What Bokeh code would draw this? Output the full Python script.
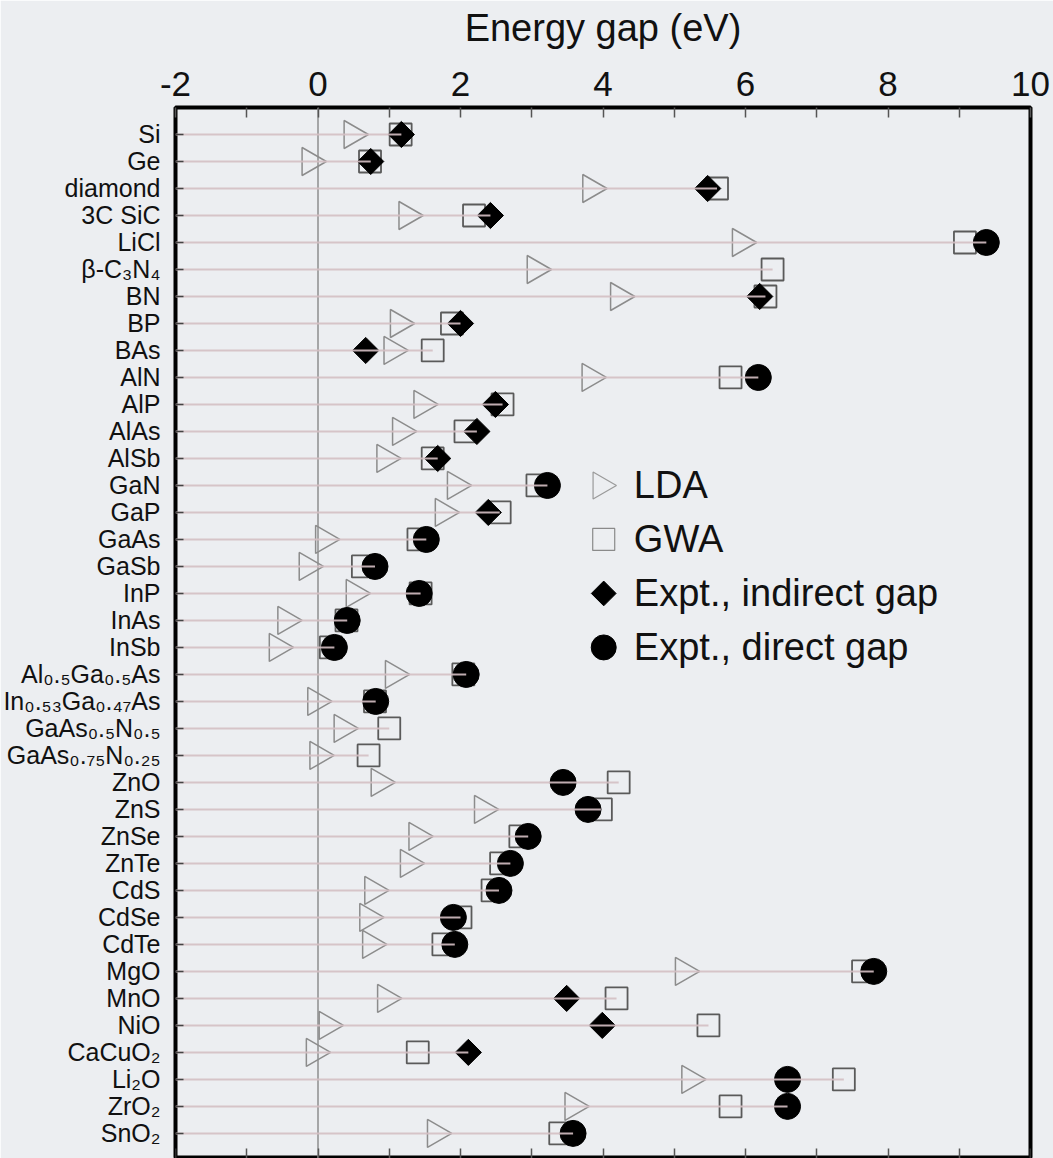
import numpy as np
from bokeh.plotting import figure
from bokeh.models import Range1d, FixedTicker, LinearAxis, Span, ColumnDataSource
from bokeh.core.properties import value
from bokeh.embed import file_html
from bokeh.resources import INLINE

nan = float("nan")

materials = ["Si", "Ge", "diamond", "3C SiC", "LiCl", "β-C₃N₄", "BN", "BP", "BAs",
             "AlN", "AlP", "AlAs", "AlSb", "GaN", "GaP", "GaAs", "GaSb", "InP",
             "InAs", "InSb", "Al₀.₅Ga₀.₅As", "In₀.₅₃Ga₀.₄₇As", "GaAs₀.₅N₀.₅",
             "GaAs₀.₇₅N₀.₂₅", "ZnO", "ZnS", "ZnSe", "ZnTe", "CdS", "CdSe", "CdTe",
             "MgO", "MnO", "NiO", "CaCuO₂", "Li₂O", "ZrO₂", "SnO₂"]

lda = [0.48, -0.11, 3.83, 1.25, 5.93, 3.05, 4.22, 1.13, 1.04, 3.82, 1.46, 1.16,
       0.94, 1.93, 1.76, 0.08, -0.15, 0.51, -0.45, -0.57, 1.06, -0.03, 0.34,
       0.00, 0.86, 2.31, 1.39, 1.27, 0.77, 0.70, 0.74, 5.13, 0.95, 0.13, -0.05,
       5.22, 3.58, 1.65]

gwa = [1.16, 0.73, 5.60, 2.19, 9.08, 6.38, 6.28, 1.88, 1.61, 5.79, 2.59, 2.07,
       1.61, 3.08, 2.55, 1.41, 0.63, 1.44, 0.40, 0.18, 2.04, 0.80, 1.00, 0.71,
       4.22, 3.97, 2.84, 2.57, 2.45, 2.00, 1.76, 7.65, 4.19, 5.48, 1.40, 7.38,
       5.79, 3.40]

expt_indirect = [1.17, 0.74, 5.47, 2.42, nan, nan, 6.20, 2.00, 0.67, nan, 2.49,
                 2.23, 1.68, nan, 2.39, nan, nan, nan, nan, nan, nan, nan, nan,
                 nan, nan, nan, nan, nan, nan, nan, nan, nan, 3.49, 3.99, 2.11,
                 nan, nan, nan]

expt_direct = [nan, nan, nan, nan, 9.38, nan, nan, nan, nan, 6.18, nan, nan, nan,
               3.22, nan, 1.52, 0.80, 1.42, 0.41, 0.23, 2.08, 0.81, nan, nan,
               3.44, 3.79, 2.95, 2.70, 2.54, 1.90, 1.92, 7.80, nan, nan, nan,
               6.59, 6.59, 3.58]

x_ticks = [-2, 0, 2, 4, 6, 8, 10]
x_minor_ticks = [-1, 1, 3, 5, 7, 9]
legend_labels = ["LDA", "GWA", "Expt., indirect gap", "Expt., direct gap"]

BG = "#eceef1"
FONT = "Liberation Sans"

rows = list(range(len(materials)))
row_end = [float(np.nanmax([a, b, c, d])) for a, b, c, d in
           zip(lda, gwa, expt_indirect, expt_direct)]

y_bottom = len(materials) - 0.07

src = ColumnDataSource(dict(
    row=rows, lda=lda, gwa=gwa, ind=expt_indirect, dir=expt_direct,
    x0=[-2.0] * len(rows), x1=row_end))

p = figure(width=1053, height=1158,
           x_range=Range1d(-2, 10), y_range=Range1d(y_bottom, -1),
           x_axis_location="above", output_backend="svg", toolbar_location=None,
           min_border_left=172, min_border_right=23, min_border_top=107,
           min_border_bottom=0)

p.background_fill_color = BG
p.border_fill_color = BG
p.outline_line_color = "black"
p.outline_line_width = 4
p.xgrid.visible = False
p.ygrid.visible = False

# top axis
xa = p.xaxis[0]
xa.ticker = FixedTicker(ticks=x_ticks, minor_ticks=x_minor_ticks)
xa.axis_label = "Energy gap (eV)"
xa.axis_label_text_font = FONT
xa.axis_label_text_font_size = "38px"
xa.axis_label_text_font_style = "normal"
xa.axis_label_text_color = "#111111"
xa.axis_label_standoff = 20
xa.major_label_text_font = FONT
xa.major_label_text_font_size = "35px"
xa.major_label_text_color = "#111111"
xa.major_label_standoff = 12
xa.major_label_overrides = {t: str(t) for t in x_ticks}
xa.axis_line_color = None
xa.major_tick_in = 10
xa.major_tick_out = 0
xa.minor_tick_in = 10
xa.minor_tick_out = 0
xa.major_tick_line_color = "#555555"
xa.minor_tick_line_color = "#555555"
xa.major_tick_line_width = 1.5
xa.minor_tick_line_width = 1.5

# bottom ticks, pinned to the bottom edge of the frame
xb = LinearAxis(ticker=FixedTicker(ticks=x_ticks, minor_ticks=x_minor_ticks),
                fixed_location=y_bottom)
xb.major_label_text_color = None
xb.axis_line_color = None
xb.major_tick_in = 10
xb.major_tick_out = 0
xb.minor_tick_in = 10
xb.minor_tick_out = 0
xb.major_tick_line_color = "#555555"
xb.minor_tick_line_color = "#555555"
xb.major_tick_line_width = 1.5
xb.minor_tick_line_width = 1.5
p.add_layout(xb, "below")

# left axis with material names
ya = p.yaxis[0]
ya.ticker = FixedTicker(ticks=rows)
ya.major_label_overrides = {i: m for i, m in enumerate(materials)}
ya.major_label_text_font = FONT
ya.major_label_text_font_size = "25px"
ya.major_label_text_color = "#111111"
ya.major_label_standoff = 15
ya.axis_line_color = None
ya.major_tick_in = 8
ya.major_tick_out = 0
ya.major_tick_line_color = "#444444"
ya.major_tick_line_width = 1.5
ya.minor_tick_line_color = None

p.add_layout(Span(location=0, dimension="height", line_color="#8e8e8e",
                  line_width=1.5, level="underlay"))

# data markers
p.scatter(x="gwa", y="row", source=src, marker="square", size=22,
          fill_color=None, line_color="#5a5a5a", line_width=1.8)
p.scatter(x="lda", y="row", source=src, marker="triangle", angle=-np.pi / 2,
          size=28, fill_color=None, line_color="#8c8c8c", line_width=1.5)
p.scatter(x="ind", y="row", source=src, marker="square", angle=np.pi / 4,
          size=18.5, fill_color="black", line_color="black")
p.scatter(x="dir", y="row", source=src, marker="circle", size=26,
          fill_color="black", line_color="black")

# row guide lines
p.segment(x0="x0", y0="row", x1="x1", y1="row", source=src,
          line_color="#d4bfc3", line_width=2, line_alpha=0.9)

# legend (drawn in the plot area)
leg_x = 3.97
leg_rows = [13, 15, 17, 19]
p.scatter(x=[leg_x], y=[leg_rows[0]], marker="triangle", angle=-np.pi / 2,
          size=27, fill_color=None, line_color="#9a9a9a", line_width=1.2)
p.scatter(x=[leg_x + 0.04], y=[leg_rows[1]], marker="square", size=22,
          fill_color=None, line_color="#8a8a8a", line_width=1.2)
p.scatter(x=[leg_x + 0.04], y=[leg_rows[2]], marker="square", angle=np.pi / 4,
          size=17.5, fill_color="black", line_color="black")
p.scatter(x=[leg_x + 0.04], y=[leg_rows[3]], marker="circle", size=25,
          fill_color="black", line_color="black")
p.text(x=[leg_x] * 4, y=leg_rows, text=legend_labels, x_offset=33,
       text_baseline="middle", text_align="left", text_font=value(FONT),
       text_font_size="38px", text_color="#111111")

open("out.html", "w").write(file_html(p, INLINE))
